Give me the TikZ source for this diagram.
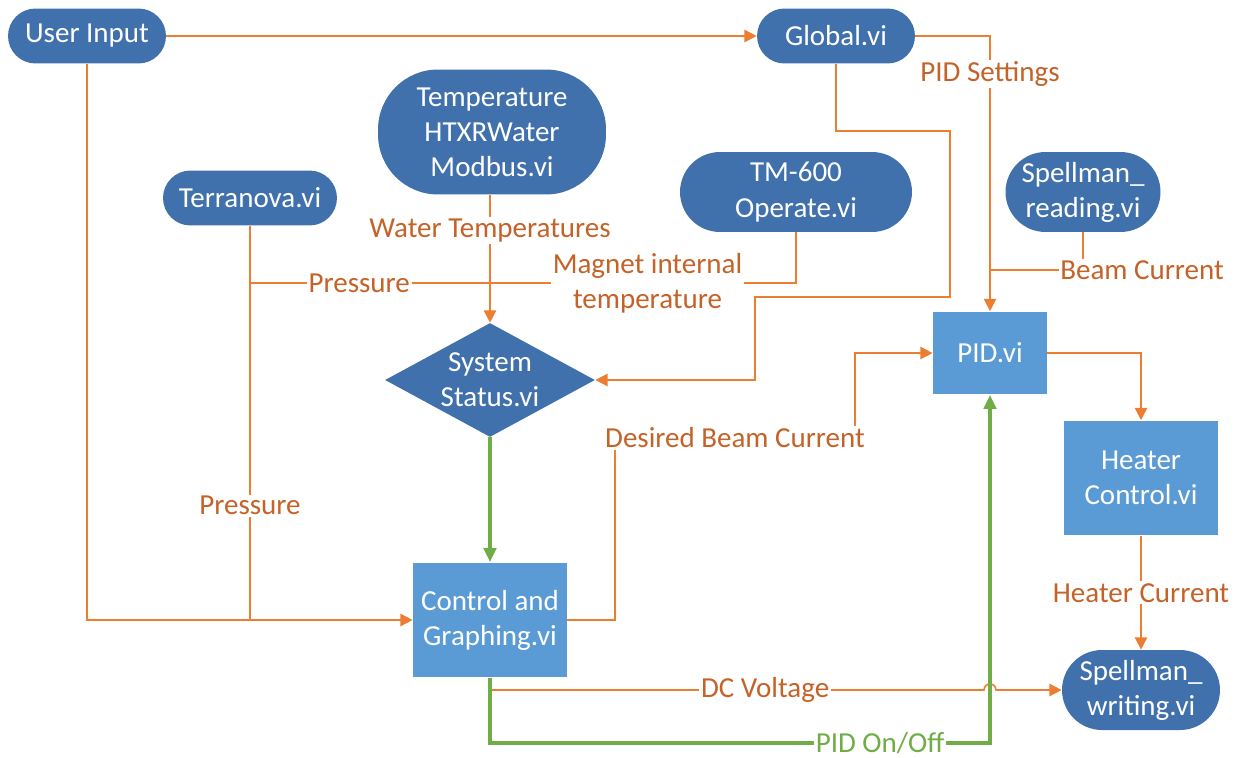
\documentclass[tikz,border=0pt]{standalone}
\usepackage{fontspec}
\setmainfont{Carlito}
\usepackage{tikz}
\usetikzlibrary{arrows.meta,shapes.geometric}
\definecolor{steelblue}{RGB}{65,113,172}
\definecolor{skyblue}{RGB}{91,155,213}
\definecolor{tangerine}{RGB}{237,125,49}
\definecolor{rust}{RGB}{197,98,40}
\definecolor{leafgreen}{RGB}{112,173,71}

\begin{document}
\begin{tikzpicture}[
    x=0.02cm, y=-0.02cm,
    font=\fontsize{16.5}{20}\selectfont,
    pill/.style={fill=steelblue, text=white, rounded corners=0.55cm, align=center,
        minimum width=3.16cm, minimum height=1.1cm, inner sep=0pt},
    tallpill/.style={pill, rounded corners=0.8cm, minimum height=1.6cm},
    box/.style={fill=skyblue, text=white, align=center, inner sep=0pt},
    decision/.style={diamond, fill=steelblue, text=white, align=center, aspect=1.84,
        minimum width=4.2cm, minimum height=2.28cm, inner sep=-3pt},
    link/.style={draw=tangerine, line width=0.9pt},
    arrow/.style={link, -{Triangle[length=7pt, width=7pt]}},
    garrow/.style={draw=leafgreen, line width=2pt, -{Triangle[length=8pt, width=7pt]}},
    lbl/.style={fill=white, text=rust, inner sep=1pt},
    glbl/.style={fill=white, text=leafgreen, inner sep=1pt}
]
\useasboundingbox (0,0) rectangle (1243,757);

\node[pill] (user) at (87,36) {User Input};
\node[pill] (global) at (836,36) {Global.vi};
\node[pill, minimum width=4.56cm, minimum height=2.5cm, rounded corners=1.2cm] (tempmod) at (492,132) {Temperature\\HTXRWater\\Modbus.vi};
\node[pill, minimum width=3.48cm] (terra) at (250,198) {Terranova.vi};
\node[tallpill, minimum width=4.64cm] (tm) at (796,192) {TM-600\\Operate.vi};
\node[tallpill, minimum width=3.1cm] (sread) at (1083,192) {Spellman\_\\reading.vi};
\node[decision] (status) at (490,380) {System\\Status.vi};
\node[box, minimum width=2.28cm, minimum height=1.66cm] (pid) at (990,353) {PID.vi};
\node[box, minimum width=3.08cm, minimum height=2.3cm] (heater) at (1141,478) {Heater\\Control.vi};
\node[box, minimum width=3.08cm, minimum height=2.3cm] (cgraph) at (490,620) {Control and\\Graphing.vi};
\node[tallpill] (swrite) at (1141,690) {Spellman\_\\writing.vi};

\coordinate (pjoin) at (250,283);
\coordinate (bjoin) at (990,270);
\coordinate (ujoin) at (250,620);

% inputs
\draw[arrow] (user) -- (global);
\draw[arrow] (user.south) |- (cgraph.west);
\draw[link] (terra.south) -- node[lbl, pos=0.71] {Pressure} (ujoin);
\draw[link] (tm.south) |- node[lbl, pos=0.636, align=center] {Magnet internal\\temperature} node[lbl, pos=0.9] {Pressure} (pjoin);
\draw[arrow] (tempmod.south -| status.north) -- node[lbl, pos=0.28] {Water Temperatures} (status.north);
\draw[arrow] (global.south) -- ++(0,67) -| (950,297) -| (755,380) -- (status.east);
\draw[arrow] (global.east) -| node[lbl, pos=0.569] {PID Settings} (pid.north);
\draw[link] (sread.south) |- (bjoin);
\node[lbl] (beamlbl) at (1142,270) {Beam Current};
\draw[garrow] (status.south) -- (cgraph.north);
% PID loop
\draw[arrow] (cgraph.east) -| (615,438) -- node[lbl] {Desired Beam Current} (855,438) |- (pid.west);
\draw[arrow] (pid.east) -| (heater.north);
\draw[arrow] (heater) -- node[lbl] {Heater Current} (swrite);
\draw[arrow] (cgraph.south) -- (cgraph.south |- swrite.west) -- node[lbl, pos=0.557] {DC Voltage} (984,690)
    arc[start angle=180, end angle=360, radius=6] -- (swrite.west);
\draw[garrow] (cgraph.south) -- ++(0,65) -| node[glbl, pos=0.39] {PID On/Off} (pid.south);
\end{tikzpicture}
\end{document}
